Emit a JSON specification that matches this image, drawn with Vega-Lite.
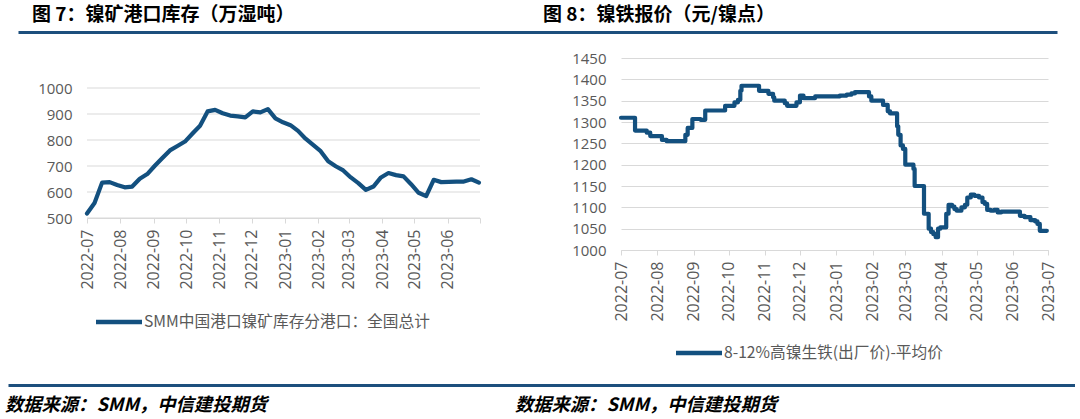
{
  "$schema": "https://vega.github.io/schema/vega-lite/v6.json",
  "background": "white",
  "padding": {"left": 5, "top": 0, "right": 0, "bottom": 0},
  "spacing": 19,
  "config": {
    "view": {"stroke": null},
    "font": "Noto Sans CJK SC",
    "axis": {"labelFont": "Open Sans", "labelFontSize": 15, "labelColor": "#595959"}
  },
  "resolve": {"scale": {"x": "independent", "y": "independent", "color": "independent"}},
  "vconcat": [
    {
      "width": 1067,
      "height": 32,
      "data": {"values": [
        {"fig": "a", "t": "图 7：镍矿港口库存（万湿吨）"},
        {"fig": "b", "t": "图 8：镍铁报价（元/镍点）"}
      ]},
      "mark": {"type": "text", "align": "left", "baseline": "middle", "dx": 14, "dy": -1, "font": "Noto Sans CJK SC", "fontWeight": "bold", "fontSize": 19, "color": "#000000"},
      "encoding": {
        "x": {"field": "fig", "type": "nominal", "bandPosition": 0,
          "scale": {"type": "band", "range": [10, 1049], "paddingInner": 0, "paddingOuter": 0.0166, "align": 0},
          "axis": {"orient": "bottom", "domain": true, "domainColor": "#1d4f7d", "domainWidth": 3, "labels": false, "ticks": false, "grid": false, "title": null}},
        "text": {"field": "t"}
      }
    },
    {
      "resolve": {"scale": {"x": "independent", "y": "independent", "color": "independent"}},
      "spacing": 10,
      "hconcat": [
        {
          "width": 472,
          "height": 160,
          "encoding": {
            "y": {"field": "v", "type": "quantitative",
              "scale": {"domain": [500, 1115.4], "nice": false, "zero": false},
              "axis": {"values": [500, 600, 700, 800, 900, 1000], "format": "d", "grid": false, "domain": false, "ticks": false, "labelPadding": 15, "offset": -79, "title": null}}
          },
          "layer": [
            {
              "data": {"values": [{"v": 500}, {"v": 600}, {"v": 700}, {"v": 800}, {"v": 900}, {"v": 1000}]},
              "mark": {"type": "rule", "color": "#d9d9d9", "strokeWidth": 1},
              "encoding": {
                "x": {"datum": {"year": 2022, "month": 7, "date": 1, "utc": true}, "type": "temporal",
                  "scale": {"type": "utc", "range": [79, 472], "domain": [{"year": 2022, "month": 7, "date": 1, "utc": true}, {"year": 2023, "month": 7, "date": 1, "utc": true}]},
                  "axis": {
                    "values": [
                      {"year": 2022, "month": 7, "date": 1, "utc": true}, {"year": 2022, "month": 8, "date": 1, "utc": true},
                      {"year": 2022, "month": 9, "date": 1, "utc": true}, {"year": 2022, "month": 10, "date": 1, "utc": true},
                      {"year": 2022, "month": 11, "date": 1, "utc": true}, {"year": 2022, "month": 12, "date": 1, "utc": true},
                      {"year": 2023, "month": 1, "date": 1, "utc": true}, {"year": 2023, "month": 2, "date": 1, "utc": true},
                      {"year": 2023, "month": 3, "date": 1, "utc": true}, {"year": 2023, "month": 4, "date": 1, "utc": true},
                      {"year": 2023, "month": 5, "date": 1, "utc": true}, {"year": 2023, "month": 6, "date": 1, "utc": true},
                      {"year": 2023, "month": 7, "date": 1, "utc": true}
                    ],
                    "labelExpr": "utcFormat(datum.value, '%Y-%m') == '2023-07' ? '' : utcFormat(datum.value, '%Y-%m')",
                    "labelAngle": -90, "labelPadding": 6, "labelFlush": false, "labelOverlap": false, "labelFontSize": 16,
                    "tickSize": 5, "tickColor": "#d9d9d9", "domainColor": "#d9d9d9", "grid": false, "title": null
                  }},
                "x2": {"datum": {"year": 2023, "month": 7, "date": 1, "utc": true}}
              }
            },
            {
              "data": {"values": [
                {"date": "2022-07-01", "v": 517}, {"date": "2022-07-08", "v": 558}, {"date": "2022-07-15", "v": 636},
                {"date": "2022-07-22", "v": 638}, {"date": "2022-07-29", "v": 627}, {"date": "2022-08-05", "v": 618},
                {"date": "2022-08-12", "v": 621}, {"date": "2022-08-19", "v": 651}, {"date": "2022-08-26", "v": 669},
                {"date": "2022-09-02", "v": 701}, {"date": "2022-09-09", "v": 731}, {"date": "2022-09-16", "v": 760},
                {"date": "2022-09-23", "v": 777}, {"date": "2022-09-30", "v": 794}, {"date": "2022-10-07", "v": 825},
                {"date": "2022-10-14", "v": 855}, {"date": "2022-10-21", "v": 910}, {"date": "2022-10-28", "v": 916},
                {"date": "2022-11-04", "v": 903}, {"date": "2022-11-11", "v": 894}, {"date": "2022-11-18", "v": 891},
                {"date": "2022-11-25", "v": 887}, {"date": "2022-12-02", "v": 910}, {"date": "2022-12-09", "v": 906},
                {"date": "2022-12-16", "v": 919}, {"date": "2022-12-23", "v": 883}, {"date": "2022-12-30", "v": 868},
                {"date": "2023-01-06", "v": 857}, {"date": "2023-01-13", "v": 835}, {"date": "2023-01-20", "v": 805},
                {"date": "2023-01-27", "v": 781}, {"date": "2023-02-03", "v": 757}, {"date": "2023-02-10", "v": 718},
                {"date": "2023-02-17", "v": 699}, {"date": "2023-02-24", "v": 683}, {"date": "2023-03-03", "v": 656},
                {"date": "2023-03-10", "v": 634}, {"date": "2023-03-17", "v": 608}, {"date": "2023-03-24", "v": 621},
                {"date": "2023-03-31", "v": 656}, {"date": "2023-04-07", "v": 673}, {"date": "2023-04-14", "v": 665},
                {"date": "2023-04-21", "v": 660}, {"date": "2023-04-28", "v": 630}, {"date": "2023-05-05", "v": 597},
                {"date": "2023-05-12", "v": 584}, {"date": "2023-05-19", "v": 647}, {"date": "2023-05-26", "v": 638},
                {"date": "2023-06-02", "v": 639}, {"date": "2023-06-09", "v": 640}, {"date": "2023-06-16", "v": 640},
                {"date": "2023-06-23", "v": 649}, {"date": "2023-06-30", "v": 636}
              ]},
              "mark": {"type": "line", "strokeWidth": 4.2, "strokeJoin": "round", "strokeCap": "round"},
              "encoding": {
                "x": {"field": "date", "type": "temporal",
                  "scale": {"type": "utc", "range": [79, 472], "domain": [{"year": 2022, "month": 7, "date": 1, "utc": true}, {"year": 2023, "month": 7, "date": 1, "utc": true}]},
                  "axis": {
                    "values": [
                      {"year": 2022, "month": 7, "date": 1, "utc": true}, {"year": 2022, "month": 8, "date": 1, "utc": true},
                      {"year": 2022, "month": 9, "date": 1, "utc": true}, {"year": 2022, "month": 10, "date": 1, "utc": true},
                      {"year": 2022, "month": 11, "date": 1, "utc": true}, {"year": 2022, "month": 12, "date": 1, "utc": true},
                      {"year": 2023, "month": 1, "date": 1, "utc": true}, {"year": 2023, "month": 2, "date": 1, "utc": true},
                      {"year": 2023, "month": 3, "date": 1, "utc": true}, {"year": 2023, "month": 4, "date": 1, "utc": true},
                      {"year": 2023, "month": 5, "date": 1, "utc": true}, {"year": 2023, "month": 6, "date": 1, "utc": true},
                      {"year": 2023, "month": 7, "date": 1, "utc": true}
                    ],
                    "labelExpr": "utcFormat(datum.value, '%Y-%m') == '2023-07' ? '' : utcFormat(datum.value, '%Y-%m')",
                    "labelAngle": -90, "labelPadding": 6, "labelFlush": false, "labelOverlap": false, "labelFontSize": 16,
                    "tickSize": 5, "tickColor": "#d9d9d9", "domainColor": "#d9d9d9", "grid": false, "title": null
                  }},
                "color": {"datum": "SMM中国港口镍矿库存分港口：全国总计", "type": "nominal",
                  "scale": {"range": ["#13507f"]},
                  "legend": {"orient": "none", "legendX": 97, "legendY": 250, "direction": "horizontal", "title": null, "symbolType": "M-2,0L2,0", "symbolSize": 529, "symbolStrokeWidth": 4.5, "labelFontSize": 15.7, "labelColor": "#595959", "labelFont": "Noto Sans CJK SC", "labelOffset": 11, "labelLimit": 500, "padding": 0}}
              }
            }
          ]
        },
        {
          "width": 427,
          "height": 192,
          "data": {"values": [
            {"date": "2022-07-01", "v": 1310}, {"date": "2022-07-13", "v": 1280}, {"date": "2022-07-23", "v": 1275},
            {"date": "2022-07-26", "v": 1267}, {"date": "2022-08-05", "v": 1258}, {"date": "2022-08-09", "v": 1255},
            {"date": "2022-08-25", "v": 1270}, {"date": "2022-08-27", "v": 1286}, {"date": "2022-08-31", "v": 1307},
            {"date": "2022-09-07", "v": 1305}, {"date": "2022-09-11", "v": 1327}, {"date": "2022-09-28", "v": 1338},
            {"date": "2022-10-06", "v": 1346}, {"date": "2022-10-09", "v": 1352}, {"date": "2022-10-11", "v": 1373},
            {"date": "2022-10-12", "v": 1385}, {"date": "2022-10-27", "v": 1373}, {"date": "2022-11-04", "v": 1366},
            {"date": "2022-11-08", "v": 1358}, {"date": "2022-11-09", "v": 1350}, {"date": "2022-11-18", "v": 1344},
            {"date": "2022-11-20", "v": 1338}, {"date": "2022-11-28", "v": 1346}, {"date": "2022-12-01", "v": 1362},
            {"date": "2022-12-04", "v": 1356}, {"date": "2022-12-14", "v": 1360}, {"date": "2023-01-04", "v": 1362},
            {"date": "2023-01-10", "v": 1364}, {"date": "2023-01-14", "v": 1367}, {"date": "2023-01-17", "v": 1370},
            {"date": "2023-01-29", "v": 1360}, {"date": "2023-01-31", "v": 1350}, {"date": "2023-02-10", "v": 1340},
            {"date": "2023-02-14", "v": 1325}, {"date": "2023-02-16", "v": 1320}, {"date": "2023-02-22", "v": 1290},
            {"date": "2023-02-23", "v": 1270}, {"date": "2023-02-25", "v": 1245}, {"date": "2023-02-27", "v": 1237},
            {"date": "2023-03-01", "v": 1200}, {"date": "2023-03-08", "v": 1190}, {"date": "2023-03-09", "v": 1150},
            {"date": "2023-03-17", "v": 1085}, {"date": "2023-03-21", "v": 1050}, {"date": "2023-03-23", "v": 1042},
            {"date": "2023-03-25", "v": 1037}, {"date": "2023-03-27", "v": 1030}, {"date": "2023-03-29", "v": 1050},
            {"date": "2023-03-31", "v": 1053}, {"date": "2023-04-05", "v": 1085}, {"date": "2023-04-07", "v": 1106},
            {"date": "2023-04-10", "v": 1102}, {"date": "2023-04-12", "v": 1096}, {"date": "2023-04-14", "v": 1092},
            {"date": "2023-04-18", "v": 1100}, {"date": "2023-04-21", "v": 1106}, {"date": "2023-04-23", "v": 1123},
            {"date": "2023-04-26", "v": 1130}, {"date": "2023-04-29", "v": 1127}, {"date": "2023-05-03", "v": 1123},
            {"date": "2023-05-06", "v": 1112}, {"date": "2023-05-08", "v": 1108}, {"date": "2023-05-10", "v": 1094},
            {"date": "2023-05-13", "v": 1092}, {"date": "2023-05-16", "v": 1094}, {"date": "2023-05-19", "v": 1088},
            {"date": "2023-05-22", "v": 1090}, {"date": "2023-06-07", "v": 1080}, {"date": "2023-06-11", "v": 1077},
            {"date": "2023-06-16", "v": 1070}, {"date": "2023-06-20", "v": 1067}, {"date": "2023-06-22", "v": 1061},
            {"date": "2023-06-24", "v": 1045}, {"date": "2023-06-30", "v": 1045}
          ]},
          "mark": {"type": "line", "strokeWidth": 4.2, "interpolate": "step-after", "strokeJoin": "round", "strokeCap": "round"},
          "encoding": {
            "x": {"field": "date", "type": "temporal",
              "scale": {"type": "utc", "domain": [{"year": 2022, "month": 7, "date": 1, "utc": true}, {"year": 2023, "month": 7, "date": 1, "utc": true}]},
              "axis": {
                "values": [
                  {"year": 2022, "month": 7, "date": 1, "utc": true}, {"year": 2022, "month": 8, "date": 1, "utc": true},
                  {"year": 2022, "month": 9, "date": 1, "utc": true}, {"year": 2022, "month": 10, "date": 1, "utc": true},
                  {"year": 2022, "month": 11, "date": 1, "utc": true}, {"year": 2022, "month": 12, "date": 1, "utc": true},
                  {"year": 2023, "month": 1, "date": 1, "utc": true}, {"year": 2023, "month": 2, "date": 1, "utc": true},
                  {"year": 2023, "month": 3, "date": 1, "utc": true}, {"year": 2023, "month": 4, "date": 1, "utc": true},
                  {"year": 2023, "month": 5, "date": 1, "utc": true}, {"year": 2023, "month": 6, "date": 1, "utc": true},
                  {"year": 2023, "month": 7, "date": 1, "utc": true}
                ],
                "labelExpr": "utcFormat(datum.value, '%Y-%m')",
                "labelAngle": -90, "labelPadding": 6, "labelFlush": false, "labelOverlap": false, "labelFontSize": 16,
                "tickSize": 5, "tickColor": "#d9d9d9", "domainColor": "#d9d9d9", "grid": false, "title": null
              }},
            "y": {"field": "v", "type": "quantitative",
              "scale": {"domain": [1000, 1450], "nice": false, "zero": false},
              "axis": {"values": [1000, 1050, 1100, 1150, 1200, 1250, 1300, 1350, 1400, 1450], "format": "d", "grid": true, "gridColor": "#d9d9d9", "domain": false, "ticks": false, "labelPadding": 15, "minExtent": 123, "title": null}},
            "color": {"datum": "8-12%高镍生铁(出厂价)-平均价", "type": "nominal",
              "scale": {"range": ["#13507f"]},
              "legend": {"orient": "none", "legendX": 60, "legendY": 277, "direction": "horizontal", "title": null, "symbolType": "M-2,0L2,0", "symbolSize": 529, "symbolStrokeWidth": 4.5, "labelFontSize": 15.7, "labelColor": "#595959", "labelFont": "Noto Sans CJK SC", "labelOffset": 11, "labelLimit": 500, "padding": 4}}
          }
        }
      ]
    },
    {
      "width": 1067,
      "height": 42,
      "data": {"values": [
        {"fig": "a", "t": "数据来源：SMM，中信建投期货"},
        {"fig": "b", "t": "数据来源：SMM，中信建投期货"}
      ]},
      "mark": {"type": "text", "align": "left", "baseline": "middle", "dx": -3, "font": "Noto Sans CJK SC", "fontStyle": "italic", "fontWeight": "bold", "fontSize": 18.3, "color": "#000000"},
      "encoding": {
        "x": {"field": "fig", "type": "nominal", "bandPosition": 0,
          "scale": {"type": "band", "paddingInner": 0, "paddingOuter": 0.0461, "align": 0},
          "axis": {"orient": "top", "domain": true, "domainColor": "#1d4f7d", "domainWidth": 3, "labels": false, "ticks": false, "grid": false, "title": null}},
        "text": {"field": "t"}
      }
    }
  ]
}
